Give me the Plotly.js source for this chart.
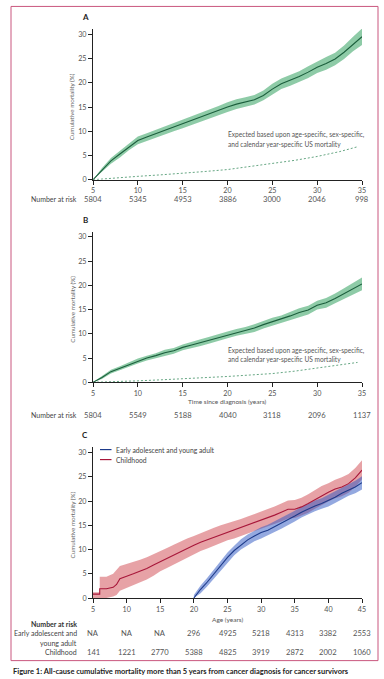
<!DOCTYPE html>
<html>
<head>
<meta charset="utf-8">
<script src="https://cdn.plot.ly/plotly-3.0.1.min.js"></script>
<style>
html,body{margin:0;padding:0;background:#fff;}
#chart{width:384px;height:679px;}
</style>
</head>
<body>
<div id="chart"></div>
<script>
// ---------- DATA ----------
// Panel A: all survivors, time since diagnosis
const yearsAB = [5,6,7,8,9,10,11,12,13,14,15,16,17,18,19,20,21,22,23,24,25,26,27,28,29,30,31,32,33,34,35];
const A_est = [0,2.0,3.9,5.3,6.8,8.1,8.8,9.5,10.2,10.8,11.5,12.2,12.9,13.6,14.3,15.0,15.6,16.0,16.5,17.4,18.7,19.8,20.5,21.3,22.2,23.2,24.0,24.9,26.3,28.0,29.5];
const A_lo  = [0,1.6,3.3,4.6,6.1,7.3,8.0,8.7,9.4,10.0,10.6,11.3,12.0,12.7,13.4,14.0,14.6,15.0,15.5,16.4,17.6,18.7,19.4,20.2,21.0,22.0,22.7,23.6,24.9,26.5,27.8];
const A_hi  = [0,2.4,4.5,6.0,7.5,8.9,9.6,10.3,11.0,11.6,12.4,13.1,13.8,14.5,15.2,16.0,16.6,17.0,17.5,18.4,19.8,20.9,21.6,22.4,23.4,24.4,25.3,26.2,27.7,29.5,31.2];
const expYears = [5,7.5,10,12.5,15,17.5,20,22.5,25,27.5,30,32.5,34.5];
const A_exp = [0,0.4,0.7,1.0,1.3,1.7,2.1,2.7,3.3,4.0,4.8,5.8,6.8];
const A_risk = [5804,5345,4953,3886,3000,2046,998];

// Panel B
const B_est = [0,1.0,2.2,2.9,3.7,4.4,5.0,5.5,6.1,6.5,7.2,7.7,8.2,8.7,9.3,9.8,10.3,10.7,11.2,11.9,12.5,13.0,13.7,14.4,14.9,15.9,16.4,17.3,18.3,19.3,20.3];
const B_lo  = [0,0.7,1.8,2.5,3.3,3.9,4.5,5.0,5.5,5.9,6.6,7.0,7.5,8.0,8.6,9.1,9.6,10.0,10.4,11.1,11.7,12.2,12.9,13.5,14.0,15.0,15.4,16.3,17.2,18.1,19.0];
const B_hi  = [0,1.3,2.6,3.3,4.1,4.9,5.5,6.0,6.7,7.1,7.8,8.4,8.9,9.4,10.0,10.5,11.0,11.4,12.0,12.7,13.3,13.8,14.5,15.3,15.8,16.8,17.4,18.3,19.4,20.5,21.6];
const B_exp = [0,0.1,0.3,0.5,0.7,0.95,1.2,1.5,1.8,2.3,2.9,3.5,4.1];
const B_risk = [5804,5549,5188,4040,3118,2096,1137];
const tickAB = [5,10,15,20,25,30,35];

// Panel C: by age at diagnosis group, x = attained age
const childAge = [5,6,6,7,8,8.5,9,9.5,10,11,12,13,14,15,16,17,18,19,20,21,22,23,24,25,26,27,28,29,30,31,32,33,34,35,36,37,38,39,40,41,42,43,44,45];
const child_est = [0.8,0.8,1.9,1.9,2.2,2.8,4.0,4.3,4.5,5.0,5.5,6.1,6.8,7.5,8.2,8.9,9.6,10.3,10.9,11.5,12.0,12.6,13.1,13.6,14.0,14.5,15.0,15.5,16.1,16.6,17.1,17.7,18.3,18.3,18.8,19.5,20.3,21.1,21.8,22.5,22.9,23.6,24.8,26.4];
const child_lo  = [0,0,0,0,0.3,0.6,1.5,1.8,2.0,2.6,3.2,3.8,4.6,5.5,6.2,6.9,7.6,8.4,9.1,9.7,10.2,10.8,11.4,11.9,12.3,12.8,13.3,13.7,14.3,14.8,15.3,15.8,16.4,16.5,17.0,17.6,18.4,19.2,19.9,20.6,21.0,21.7,22.9,24.5];
const child_hi  = [1.2,1.2,4.4,4.4,5.0,5.8,6.6,6.8,7.0,7.5,7.9,8.4,9.0,9.6,10.3,11.0,11.7,12.3,12.8,13.4,13.9,14.5,15.0,15.4,15.8,16.3,16.8,17.3,17.9,18.4,18.9,19.5,20.1,20.2,20.7,21.4,22.3,23.1,23.7,24.4,24.9,25.6,26.8,28.4];
const ayaAge = [20,21,22,23,24,25,26,27,28,29,30,31,32,33,34,35,36,37,38,39,40,41,42,43,44,45];
const aya_est = [0,1.8,3.3,5.0,6.8,8.4,9.8,11.0,12.0,12.8,13.5,14.0,14.7,15.4,16.1,16.9,17.7,18.4,19.0,19.5,20.1,20.8,21.6,22.3,22.9,23.8];
const aya_lo  = [0,1.0,2.4,4.0,5.8,7.4,8.8,10.0,10.9,11.7,12.3,12.9,13.6,14.3,15.0,15.8,16.6,17.3,17.9,18.4,18.9,19.6,20.4,21.1,21.6,22.4];
const aya_hi  = [0.6,2.6,4.2,6.0,7.8,9.4,10.8,12.1,13.1,13.9,14.6,15.1,15.8,16.5,17.2,18.0,18.8,19.5,20.1,20.6,21.3,22.0,22.8,23.5,24.2,25.1];
const tickC = [5,10,15,20,25,30,35,40,45];
const C_risk_aya = ['NA','NA','NA',296,4925,5218,4313,3382,2553];
const C_risk_child = [141,1221,2770,5388,4825,3919,2872,2002,1060];
const yTicks = [0,5,10,15,20,25,30];

// ---------- STYLE ----------
const FONT = 'Lato, "Open Sans", sans-serif';
const GREEN_L = '#1b5e3c', GREEN_F = 'rgba(50,160,95,0.55)';
const RED_L = '#a8173a', RED_F = 'rgba(205,60,70,0.48)';
const BLUE_L = '#1d3a8a', BLUE_F = 'rgba(50,90,195,0.52)';

// pixel -> paper helpers (plot area: x 93..362, y 28.6..598.3)
const PX = x => (x - 93) / 269;
const PY = y => (598.3 - y) / 569.7;

function band(x, lo, hi, color, xa, ya) {
  return [
    {x: x, y: lo, type: 'scatter', mode: 'lines', line: {width: 0, color: color}, xaxis: xa, yaxis: ya, hoverinfo: 'skip'},
    {x: x, y: hi, type: 'scatter', mode: 'lines', line: {width: 0, color: color}, fill: 'tonexty', fillcolor: color, xaxis: xa, yaxis: ya, hoverinfo: 'skip'}
  ];
}
function line(x, y, color, xa, ya, w, dash) {
  return {x: x, y: y, type: 'scatter', mode: 'lines', line: {color: color, width: w || 1.1, dash: dash || 'solid'}, xaxis: xa, yaxis: ya};
}

const traces = [
  ...band(yearsAB, A_lo, A_hi, GREEN_F, 'x', 'y'),
  line(yearsAB, A_est, GREEN_L, 'x', 'y'),
  line(expYears, A_exp, '#3f8f63', 'x', 'y', 0.8, '2px,2px'),
  ...band(yearsAB, B_lo, B_hi, GREEN_F, 'x2', 'y2'),
  line(yearsAB, B_est, GREEN_L, 'x2', 'y2'),
  line(expYears, B_exp, '#3f8f63', 'x2', 'y2', 0.8, '2px,2px'),
  ...band(childAge, child_lo, child_hi, RED_F, 'x3', 'y3'),
  ...band(ayaAge, aya_lo, aya_hi, BLUE_F, 'x3', 'y3'),
  line(childAge, child_est, RED_L, 'x3', 'y3'),
  line(ayaAge, aya_est, BLUE_L, 'x3', 'y3')
];

const axisCommon = {
  showline: true, linecolor: '#222', linewidth: 1,
  ticks: 'outside', ticklen: 4, tickwidth: 1, tickcolor: '#222',
  showgrid: false, zeroline: false,
  tickfont: {family: FONT, size: 7.2, color: '#555'},
  fixedrange: true
};
function xAx(range, tv, anchor) {
  return Object.assign({}, axisCommon, {range: range, tickvals: tv, anchor: anchor, domain: [0, 1]});
}
function yAx(domain, anchor) {
  return Object.assign({}, axisCommon, {range: [0, 31.1], tickvals: yTicks, anchor: anchor, domain: domain});
}

const ann = [];
function txt(text, x, y, opts) {
  ann.push(Object.assign({text: text, x: x, y: y, xref: 'paper', yref: 'paper', showarrow: false,
    xanchor: 'center', yanchor: 'middle', font: {family: FONT, size: 7, color: '#444'}}, opts || {}));
}
// Axis titles
const yTitle = 'Cumulative mortality (%)';
[106.6, 309.3, 525.3].forEach(yc => {
  txt(yTitle, PX(72.3), PY(yc), {textangle: -90, font: {family: FONT, size: 6.2, color: '#666'}});
});
txt('Time since diagnosis (years)', PX(227.5), PY(402), {font: {family: FONT, size: 6.5, color: '#555'}});
txt('Age (years)', PX(227.5), PY(620), {font: {family: FONT, size: 6.5, color: '#555'}});
// Panel letters
txt('<b>A</b>', PX(85), PY(17), {font: {family: FONT, size: 8, color: '#222'}});
txt('<b>B</b>', PX(85), PY(220), {font: {family: FONT, size: 8, color: '#222'}});
txt('<b>C</b>', PX(85), PY(435), {font: {family: FONT, size: 8, color: '#222'}});
// Expected notes
const note1 = 'Expected based upon age-specific, sex-specific,';
const note2 = 'and calendar year-specific US mortality';
const noteFont = {family: FONT, size: 6.6, color: '#555'};
txt(note1, PX(225.5), PY(134), {xanchor: 'left', font: noteFont});
txt(note2, PX(225.5), PY(144), {xanchor: 'left', font: noteFont});
txt(note1, PX(225.5), PY(350.7), {xanchor: 'left', font: noteFont});
txt(note2, PX(225.5), PY(359.5), {xanchor: 'left', font: noteFont});
// Number at risk A & B
const riskFont = {family: FONT, size: 7.6, color: '#555'};
const labFont = {family: FONT, size: 7, color: '#444'};
txt('Number at risk', PX(78.5), PY(199), {xanchor: 'right', font: labFont});
txt('Number at risk', PX(78.5), PY(415), {xanchor: 'right', font: labFont});
tickAB.forEach((t, i) => {
  ann.push({text: String(A_risk[i]), x: t, y: PY(199), xref: 'x', yref: 'paper', showarrow: false, xanchor: 'center', yanchor: 'middle', font: riskFont});
  ann.push({text: String(B_risk[i]), x: t, y: PY(415), xref: 'x2', yref: 'paper', showarrow: false, xanchor: 'center', yanchor: 'middle', font: riskFont});
});
// Number at risk C
txt('<b>Number at risk</b>', PX(78.5), PY(624.3), {xanchor: 'right', font: {family: FONT, size: 7, color: '#333'}});
txt('Early adolescent and', PX(78.5), PY(633.5), {xanchor: 'right', font: labFont});
txt('young adult', PX(78.5), PY(643.3), {xanchor: 'right', font: labFont});
txt('Childhood', PX(78.5), PY(652.3), {xanchor: 'right', font: labFont});
tickC.forEach((t, i) => {
  ann.push({text: String(C_risk_aya[i]), x: t, y: PY(633.5), xref: 'x3', yref: 'paper', showarrow: false, xanchor: 'center', yanchor: 'middle', font: riskFont});
  ann.push({text: String(C_risk_child[i]), x: t, y: PY(652.3), xref: 'x3', yref: 'paper', showarrow: false, xanchor: 'center', yanchor: 'middle', font: riskFont});
});
// Legend C
const legNames = ['Early adolescent and young adult', 'Childhood'];
const legColors = [BLUE_L, RED_L];
const legY = [449.7, 459.7];
const shapes = [];
legNames.forEach((n, i) => {
  shapes.push({type: 'line', xref: 'paper', yref: 'paper', x0: PX(100), x1: PX(111.5), y0: PY(legY[i]), y1: PY(legY[i]), line: {color: legColors[i], width: 1.2}});
  txt(n, PX(114), PY(legY[i]), {xanchor: 'left', font: {family: FONT, size: 6.8, color: '#444'}});
});
// Caption
txt('<b>Figure 1: All-cause cumulative mortality more than 5 years from cancer diagnosis for cancer survivors</b>', PX(11), PY(672), {xanchor: 'left', font: {family: FONT, size: 7.5, color: '#222'}});
// Frame
shapes.push({type: 'rect', xref: 'paper', yref: 'paper', x0: PX(11), x1: PX(378), y0: PY(661), y1: PY(6), line: {color: '#c9577e', width: 1}, fillcolor: 'rgba(0,0,0,0)'});

const layout = {
  width: 384, height: 679,
  margin: {l: 93, r: 22, t: 28.6, b: 80.7, pad: 0},
  paper_bgcolor: '#fff', plot_bgcolor: '#fff',
  showlegend: false,
  font: {family: FONT, color: '#444'},
  xaxis: xAx([5, 35], tickAB, 'y'),
  yaxis: yAx([0.7351, 1], 'x'),
  xaxis2: xAx([5, 35], tickAB, 'y2'),
  yaxis2: yAx([0.3791, 0.6440], 'x2'),
  xaxis3: xAx([5, 45], tickC, 'y3'),
  yaxis3: yAx([0, 0.2649], 'x3'),
  annotations: ann,
  shapes: shapes
};

Plotly.newPlot('chart', traces, layout, {displayModeBar: false, staticPlot: true});
</script>
</body>
</html>
